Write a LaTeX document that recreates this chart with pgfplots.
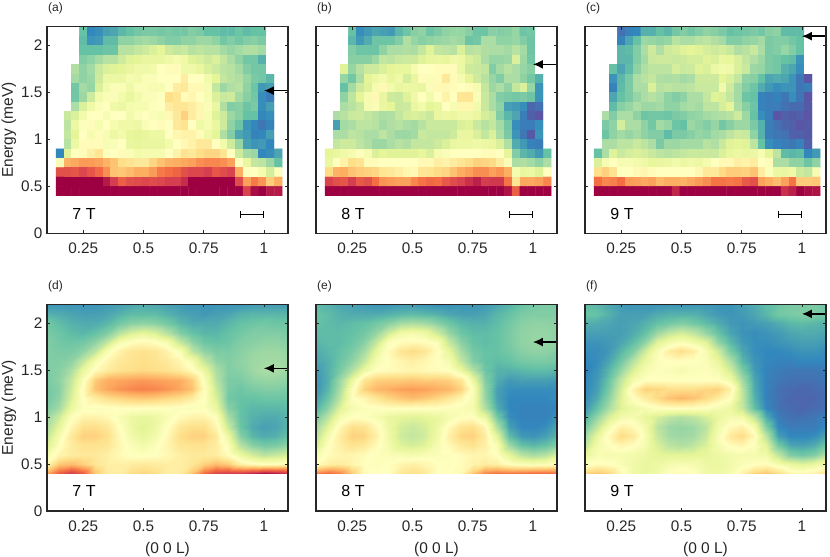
\documentclass[border=0pt]{standalone}
\usepackage{fontspec}
\setmainfont{Liberation Sans}
\usepackage{pgfplots}
\usepackage{pgfplotstable}
\pgfplotsset{compat=1.18}
\usetikzlibrary{arrows.meta}

\definecolor{axcol}{RGB}{38,38,38}

% Spectral map, intensity 0..10. Top panels: -1 = no data (white)
\pgfplotsset{
  colormap={spectop}{rgb255(0cm)=(255,255,255) rgb255(0.99cm)=(255,255,255) rgb255(1cm)=(94,79,162) rgb255(2cm)=(50,136,189) rgb255(3cm)=(102,194,165) rgb255(4cm)=(171,221,164) rgb255(5cm)=(230,245,152) rgb255(6cm)=(255,255,191) rgb255(7cm)=(254,224,139) rgb255(8cm)=(253,174,97) rgb255(9cm)=(244,109,67) rgb255(10cm)=(213,62,79) rgb255(11cm)=(158,1,66)},
  colormap={specbot}{rgb255(0cm)=(94,79,162) rgb255(1cm)=(50,136,189) rgb255(2cm)=(102,194,165) rgb255(3cm)=(171,221,164) rgb255(4cm)=(230,245,152) rgb255(5cm)=(255,255,191) rgb255(6cm)=(254,224,139) rgb255(7cm)=(253,174,97) rgb255(8cm)=(244,109,67) rgb255(9cm)=(213,62,79) rgb255(10cm)=(158,1,66)},
}

% measured panels: 18 rows (2.15 down to 0.45), 29 columns
\pgfplotstableread[row sep=crcr,header=false]{
-1\\-1\\-1\\2.0\\1.0\\1.1\\1.4\\1.5\\1.8\\2.0\\2.2\\2.3\\2.3\\2.2\\2.3\\2.2\\2.2\\2.4\\2.3\\2.0\\2.0\\1.9\\1.9\\2.1\\1.9\\2.0\\2.0\\-1\\-1\\
-1\\-1\\-1\\1.9\\1.2\\1.3\\1.9\\1.9\\2.6\\2.6\\2.8\\2.9\\2.8\\2.6\\2.4\\2.4\\2.6\\2.6\\2.8\\2.8\\2.6\\2.2\\2.4\\2.2\\2.4\\2.5\\2.3\\-1\\-1\\
-1\\-1\\-1\\2.0\\2.0\\2.0\\2.1\\2.1\\3.2\\3.2\\3.4\\3.6\\3.8\\4.0\\3.6\\3.4\\3.5\\3.2\\3.3\\3.2\\3.2\\2.9\\2.7\\2.9\\3.1\\3.1\\2.9\\-1\\-1\\
-1\\-1\\-1\\2.4\\2.6\\2.9\\3.2\\3.2\\3.6\\3.9\\4.0\\4.2\\4.2\\4.2\\4.4\\4.6\\4.4\\3.9\\3.8\\3.6\\3.8\\3.4\\3.0\\2.6\\2.2\\2.2\\1.7\\-1\\-1\\
-1\\-1\\3.1\\2.6\\2.9\\3.5\\3.8\\3.9\\4.0\\4.2\\4.4\\4.4\\4.5\\5.0\\5.1\\5.1\\4.4\\4.4\\4.2\\3.8\\3.6\\3.3\\3.2\\2.9\\2.4\\2.2\\2.2\\-1\\-1\\
-1\\-1\\2.9\\2.6\\2.8\\3.6\\4.3\\4.3\\4.3\\4.6\\4.5\\4.8\\4.8\\5.0\\5.0\\5.0\\5.6\\5.0\\5.0\\4.5\\4.0\\3.4\\3.2\\3.1\\2.7\\2.3\\2.2\\1.8\\-1\\
-1\\-1\\2.2\\2.9\\2.7\\3.8\\4.5\\4.8\\4.8\\4.4\\4.8\\4.8\\4.7\\4.7\\5.0\\5.6\\5.7\\5.2\\5.2\\4.7\\3.4\\2.8\\3.1\\3.2\\2.6\\2.1\\1.3\\1.4\\-1\\
-1\\-1\\2.2\\2.8\\3.6\\4.5\\4.8\\4.8\\4.5\\4.2\\4.5\\4.8\\4.8\\5.0\\6.0\\5.8\\5.1\\5.3\\5.0\\4.7\\3.8\\3.5\\3.6\\2.9\\2.5\\2.2\\1.1\\0.8\\-1\\
-1\\-1\\3.0\\3.8\\4.4\\4.8\\5.0\\4.4\\4.3\\4.6\\4.7\\4.6\\4.9\\5.0\\5.6\\5.8\\5.8\\5.6\\5.3\\4.8\\4.2\\3.1\\2.4\\2.5\\2.1\\2.3\\1.1\\1.4\\-1\\
-1\\3.5\\3.8\\4.5\\5.0\\5.0\\4.7\\5.0\\5.0\\4.5\\4.8\\5.0\\4.8\\4.7\\5.2\\5.7\\6.3\\5.6\\5.3\\4.7\\3.9\\3.6\\2.8\\2.5\\2.0\\2.0\\1.0\\1.1\\-1\\
-1\\3.3\\4.3\\4.9\\5.1\\4.7\\5.0\\4.6\\4.4\\4.4\\4.3\\4.8\\5.0\\5.1\\5.0\\5.7\\5.9\\5.0\\4.4\\4.6\\4.2\\3.6\\2.6\\2.1\\1.2\\1.0\\0.7\\0.9\\-1\\
-1\\3.4\\4.0\\5.0\\4.6\\5.1\\4.7\\4.3\\4.5\\4.1\\4.0\\4.1\\4.3\\4.3\\5.0\\5.3\\5.4\\5.4\\5.1\\4.4\\4.0\\3.1\\2.4\\1.5\\1.3\\0.9\\1.0\\1.4\\-1\\
-1\\3.2\\4.3\\5.1\\5.1\\5.1\\4.7\\4.8\\5.0\\4.2\\4.1\\4.2\\4.2\\4.2\\4.5\\5.0\\5.2\\5.4\\5.7\\5.7\\5.0\\4.5\\3.6\\2.7\\1.4\\1.2\\1.3\\1.0\\-1\\
1.0\\3.9\\5.0\\5.1\\5.5\\5.8\\4.9\\5.0\\5.1\\4.8\\4.5\\4.6\\4.6\\4.6\\5.0\\5.4\\5.9\\5.7\\6.0\\6.2\\6.2\\5.8\\5.0\\3.6\\2.9\\2.8\\1.0\\1.1\\1.5\\
4.8\\6.9\\7.1\\7.3\\7.3\\7.2\\6.9\\6.6\\6.0\\5.9\\5.7\\5.7\\6.2\\6.6\\6.9\\7.0\\7.1\\7.2\\7.5\\7.6\\7.6\\7.5\\7.2\\5.0\\4.2\\3.4\\3.3\\2.8\\2.0\\
8.6\\8.6\\8.5\\8.8\\8.5\\8.1\\7.5\\6.6\\6.5\\6.7\\7.0\\7.0\\7.3\\7.8\\8.0\\8.2\\8.6\\8.8\\8.8\\9.0\\8.5\\8.7\\8.9\\7.0\\5.0\\5.0\\4.6\\3.7\\4.9\\
10\\10\\10\\10\\10\\10\\9.6\\9.0\\8.3\\8.6\\8.7\\8.8\\8.7\\8.8\\9.0\\9.0\\9.3\\10\\10\\10\\10\\10\\10\\8.7\\7.2\\7.8\\7.4\\6.4\\7.0\\
10\\10\\10\\10\\10\\10\\10\\10\\10\\10\\10\\10\\10\\10\\10\\10\\10\\10\\10\\10\\10\\10\\10\\10\\8.9\\9.8\\10\\9.6\\9.6\\
}\taba

\pgfplotstableread[row sep=crcr,header=false]{
-1\\-1\\-1\\2.0\\1.1\\1.3\\1.5\\1.4\\1.3\\1.8\\2.1\\2.5\\2.6\\2.1\\2.3\\2.6\\2.7\\2.7\\2.5\\2.1\\2.1\\2.5\\2.4\\2.5\\2.7\\2.1\\2.2\\-1\\-1\\
-1\\-1\\-1\\1.8\\1.3\\1.6\\2.1\\2.1\\2.1\\2.4\\3.1\\2.7\\2.5\\2.6\\2.7\\2.8\\2.9\\2.8\\2.1\\2.2\\3.0\\3.0\\2.6\\2.6\\2.7\\2.4\\2.1\\-1\\-1\\
-1\\-1\\-1\\2.4\\2.1\\2.1\\2.1\\2.6\\3.0\\3.0\\3.1\\3.0\\3.4\\3.9\\3.4\\3.3\\3.2\\3.8\\3.2\\3.3\\3.1\\3.0\\3.0\\2.9\\3.2\\2.9\\2.1\\-1\\-1\\
-1\\-1\\-1\\2.5\\2.5\\2.5\\2.8\\3.4\\3.3\\3.5\\3.6\\3.6\\3.9\\4.1\\4.2\\4.1\\4.4\\4.3\\3.8\\3.6\\3.0\\2.7\\2.7\\2.8\\3.8\\2.8\\2.2\\-1\\-1\\
-1\\-1\\3.9\\2.7\\3.2\\3.6\\3.6\\3.8\\4.0\\4.1\\4.1\\4.6\\5.0\\5.0\\5.1\\5.1\\5.1\\4.3\\3.6\\3.5\\3.4\\2.4\\2.9\\3.2\\3.0\\2.7\\2.5\\-1\\-1\\
-1\\-1\\2.7\\2.2\\3.0\\4.0\\4.3\\4.5\\4.1\\4.4\\3.7\\4.2\\5.1\\4.8\\5.1\\5.7\\5.1\\4.6\\4.0\\3.6\\3.2\\2.7\\2.4\\3.0\\3.0\\2.6\\2.2\\1.7\\-1\\
-1\\-1\\2.0\\2.9\\3.6\\3.9\\4.6\\5.2\\4.5\\4.2\\4.3\\4.3\\4.2\\4.8\\5.2\\5.2\\5.1\\5.0\\5.1\\4.6\\3.4\\2.8\\3.0\\2.6\\3.4\\3.8\\2.7\\1.2\\-1\\
-1\\-1\\2.6\\3.3\\4.0\\4.6\\5.2\\4.2\\3.6\\3.5\\3.9\\4.4\\5.0\\4.5\\5.0\\5.4\\5.0\\5.8\\5.8\\4.8\\3.5\\3.0\\2.4\\2.3\\2.2\\2.3\\2.1\\1.2\\-1\\
-1\\-1\\3.0\\3.2\\3.5\\4.6\\4.8\\4.2\\4.0\\3.5\\3.6\\4.2\\4.5\\4.0\\4.2\\5.0\\4.7\\5.3\\5.3\\4.5\\3.5\\3.0\\2.6\\1.4\\1.3\\1.1\\0.4\\0.6\\-1\\
-1\\3.0\\3.2\\3.5\\3.6\\3.4\\3.2\\3.0\\3.1\\3.4\\3.7\\3.8\\3.7\\3.5\\4.2\\4.3\\4.2\\4.4\\4.4\\4.2\\3.7\\3.5\\2.4\\1.8\\1.5\\0.8\\0.3\\0.1\\-1\\
-1\\1.4\\2.9\\3.0\\3.3\\3.3\\3.2\\2.9\\3.1\\3.2\\3.0\\2.9\\3.2\\3.5\\3.5\\3.5\\3.5\\3.8\\3.9\\3.5\\3.2\\3.4\\2.9\\2.2\\1.1\\0.8\\0.8\\1.1\\-1\\
-1\\3.0\\3.0\\3.3\\3.2\\3.0\\3.0\\3.3\\3.0\\2.8\\2.8\\2.9\\3.5\\3.4\\3.4\\3.4\\3.6\\4.2\\4.2\\3.8\\3.4\\3.8\\3.0\\2.3\\1.2\\0.7\\0.2\\1.2\\-1\\
-1\\3.4\\3.6\\3.6\\3.3\\3.1\\2.8\\2.8\\3.0\\3.2\\3.1\\3.4\\3.4\\3.4\\3.6\\3.8\\4.2\\4.3\\4.3\\4.4\\4.3\\4.2\\3.8\\3.1\\1.6\\1.3\\0.9\\0.8\\-1\\
4.0\\4.2\\4.4\\4.6\\4.9\\4.6\\3.8\\4.0\\3.9\\3.9\\3.9\\3.9\\4.1\\3.8\\4.6\\4.8\\5.0\\5.0\\5.0\\5.0\\5.1\\5.1\\5.0\\4.0\\2.4\\1.8\\1.6\\1.3\\2.0\\
4.2\\5.0\\5.4\\6.0\\5.9\\5.1\\5.1\\5.0\\5.0\\5.0\\5.0\\5.0\\5.2\\5.2\\5.5\\5.4\\5.6\\5.8\\6.0\\6.3\\6.2\\6.1\\5.6\\4.8\\3.0\\3.1\\2.9\\2.6\\3.0\\
6.1\\6.9\\7.0\\6.6\\6.4\\6.3\\6.2\\5.8\\5.7\\5.5\\5.3\\5.2\\5.8\\5.9\\6.1\\6.2\\6.6\\7.0\\7.2\\7.5\\7.5\\7.2\\7.4\\7.0\\4.6\\4.2\\4.3\\3.9\\5.0\\
8.9\\8.6\\8.5\\9.0\\8.4\\8.6\\8.0\\7.4\\7.3\\7.2\\7.2\\7.6\\7.9\\8.1\\8.0\\8.4\\8.7\\8.9\\9.2\\9.5\\9.0\\9.1\\9.1\\7.9\\5.8\\7.1\\7.1\\7.2\\7.6\\
10\\10\\10\\10\\10\\10\\10\\10\\10\\10\\10\\10\\10\\10\\10\\10\\10\\10\\10\\10\\10\\10\\10\\9.7\\8.3\\10\\10\\10\\10\\
}\tabb

\pgfplotstableread[row sep=crcr,header=false]{
-1\\-1\\-1\\0.6\\0.9\\1.0\\1.7\\1.7\\2.0\\1.8\\2.2\\2.4\\2.2\\2.4\\2.6\\2.5\\2.3\\2.0\\2.1\\2.2\\2.3\\2.2\\2.5\\2.6\\1.9\\1.9\\1.9\\-1\\-1\\
-1\\-1\\-1\\0.9\\1.5\\2.0\\2.8\\2.7\\2.6\\2.7\\3.2\\3.0\\3.0\\3.2\\3.3\\3.1\\2.9\\2.4\\2.4\\2.6\\2.7\\2.9\\2.3\\2.4\\2.4\\2.2\\2.0\\-1\\-1\\
-1\\-1\\-1\\1.8\\1.9\\2.4\\3.0\\3.6\\3.1\\3.6\\3.7\\3.9\\4.0\\3.9\\3.7\\3.6\\3.7\\3.5\\3.1\\3.2\\3.5\\3.0\\2.3\\2.4\\2.7\\2.4\\2.0\\-1\\-1\\
-1\\-1\\-1\\1.8\\1.8\\2.4\\2.9\\3.5\\3.6\\3.6\\3.5\\3.6\\3.7\\3.7\\3.9\\3.8\\4.2\\4.1\\3.8\\3.4\\3.1\\2.8\\2.3\\2.2\\2.0\\1.9\\1.2\\-1\\-1\\
-1\\-1\\2.0\\1.5\\1.9\\2.6\\3.1\\3.3\\3.3\\3.3\\3.7\\3.5\\3.6\\3.9\\3.8\\4.3\\4.5\\4.4\\3.8\\3.5\\2.8\\2.7\\2.3\\2.2\\1.7\\1.5\\1.1\\-1\\-1\\
-1\\-1\\1.2\\1.8\\2.3\\3.0\\3.2\\3.4\\3.1\\3.0\\3.1\\2.9\\3.0\\3.6\\3.6\\3.6\\4.0\\3.8\\3.4\\2.6\\2.5\\2.0\\1.5\\1.6\\1.5\\1.2\\0.7\\0.1\\-1\\
-1\\-1\\0.9\\1.9\\2.3\\3.0\\3.0\\3.8\\3.2\\3.3\\3.2\\3.2\\3.3\\3.5\\3.5\\3.5\\4.5\\3.6\\2.9\\2.4\\2.1\\1.6\\1.3\\1.1\\1.2\\1.2\\0.7\\0.8\\-1\\
-1\\-1\\1.5\\2.0\\2.3\\2.7\\3.0\\3.2\\3.0\\2.6\\2.4\\2.6\\3.0\\3.0\\3.4\\3.9\\3.8\\3.4\\2.9\\2.1\\2.0\\0.9\\0.8\\0.9\\0.7\\1.1\\0.7\\0.1\\-1\\
-1\\-1\\1.9\\2.5\\2.7\\3.0\\2.8\\2.8\\2.9\\2.6\\2.6\\2.9\\3.0\\2.9\\3.3\\3.3\\3.7\\4.0\\3.0\\2.5\\2.1\\0.9\\0.8\\0.8\\0.6\\0.5\\0.5\\0.2\\-1\\
-1\\3.0\\2.4\\3.0\\3.0\\2.6\\2.1\\2.2\\2.2\\2.1\\2.3\\2.4\\2.6\\2.7\\2.9\\3.0\\3.1\\3.2\\3.6\\2.8\\2.0\\1.1\\0.8\\0.1\\0.3\\0.2\\0.3\\0.1\\-1\\
-1\\2.3\\2.6\\3.7\\3.0\\3.0\\2.6\\2.2\\2.9\\2.7\\2.1\\2.0\\2.8\\2.6\\2.4\\2.7\\2.2\\2.5\\2.8\\2.8\\2.3\\1.7\\0.8\\0.6\\0.4\\0.3\\0.1\\0.2\\-1\\
-1\\2.1\\2.6\\2.9\\2.7\\2.9\\2.6\\2.4\\2.4\\1.9\\2.3\\2.3\\2.5\\2.7\\2.6\\2.9\\3.0\\3.3\\3.6\\3.5\\2.6\\1.7\\0.8\\0.7\\0.6\\0.3\\0.3\\0.2\\-1\\
-1\\3.0\\3.0\\3.3\\3.3\\3.5\\3.3\\3.0\\2.3\\2.8\\2.8\\2.9\\2.9\\2.9\\3.2\\3.1\\3.5\\3.9\\4.0\\3.9\\3.3\\2.0\\1.1\\0.9\\0.8\\0.7\\0.9\\0.3\\-1\\
2.0\\3.0\\3.9\\3.5\\3.7\\3.8\\3.7\\3.5\\3.3\\3.2\\3.3\\3.4\\3.5\\3.5\\3.5\\3.5\\3.8\\4.1\\4.3\\4.2\\4.3\\4.7\\4.0\\3.3\\1.9\\1.8\\1.9\\1.0\\1.3\\
3.8\\4.7\\5.0\\4.7\\4.7\\4.5\\4.4\\4.1\\4.2\\4.3\\4.5\\4.3\\4.4\\4.3\\4.6\\5.0\\5.2\\5.2\\5.5\\5.4\\5.6\\5.0\\5.1\\3.0\\3.0\\2.6\\2.6\\2.1\\2.6\\
6.0\\6.3\\5.9\\5.0\\5.0\\5.2\\5.3\\5.1\\5.0\\5.0\\5.0\\5.0\\5.0\\5.3\\5.7\\5.7\\6.1\\6.4\\6.4\\6.3\\6.6\\5.6\\4.9\\4.3\\4.2\\4.4\\3.6\\3.4\\4.7\\
8.0\\7.6\\7.7\\8.0\\7.3\\7.2\\7.1\\7.2\\6.8\\7.0\\7.0\\6.9\\7.1\\7.3\\7.5\\7.9\\7.9\\7.8\\7.9\\8.4\\8.6\\7.2\\7.0\\6.7\\7.2\\7.9\\6.4\\6.4\\6.5\\
10\\10\\10\\10\\10\\10\\10\\10\\10\\10\\9.4\\10\\10\\10\\10\\10\\10\\10\\10\\10\\10\\10\\10\\10\\9.2\\9.5\\10\\9.8\\9.7\\
}\tabc

% calculated panels: 19 rows (2.2 down to 0.4), 21 columns (0.1 to 1.1)
\pgfplotstableread[row sep=crcr,header=false]{
1.2\\1.2\\1.2\\1.2\\1.2\\1.3\\1.4\\1.5\\1.6\\1.5\\1.4\\1.3\\1.2\\1.2\\1.2\\1.2\\1.2\\1.3\\1.3\\1.3\\1.3\\
1.7\\1.6\\1.5\\1.4\\1.4\\1.5\\1.7\\1.9\\1.9\\1.9\\1.7\\1.5\\1.4\\1.3\\1.4\\1.5\\1.7\\1.8\\1.8\\1.8\\1.8\\
2.2\\1.9\\1.7\\1.6\\1.6\\1.8\\2.2\\2.5\\2.6\\2.5\\2.2\\1.8\\1.6\\1.6\\1.6\\1.8\\2.0\\2.1\\2.2\\2.1\\2.1\\
2.3\\2.1\\1.9\\1.8\\2.0\\2.4\\3.2\\3.8\\4.1\\3.8\\3.2\\2.4\\2.0\\1.8\\1.8\\2.0\\2.2\\2.4\\2.4\\2.4\\2.3\\
2.4\\2.2\\2.1\\2.2\\2.6\\3.4\\4.6\\5.0\\5.2\\5.0\\4.6\\3.4\\2.6\\2.1\\2.0\\2.1\\2.4\\2.5\\2.6\\2.6\\2.5\\
2.4\\2.3\\2.3\\2.6\\3.3\\4.7\\5.4\\5.8\\5.9\\5.8\\5.4\\4.7\\3.3\\2.6\\2.3\\2.3\\2.5\\2.7\\2.8\\2.8\\2.7\\
2.4\\2.4\\2.6\\3.4\\4.6\\5.3\\5.7\\5.9\\6.0\\5.9\\5.7\\5.3\\4.6\\3.4\\2.6\\2.4\\2.6\\2.8\\2.9\\2.9\\2.8\\
2.4\\2.5\\3.0\\4.2\\5.1\\5.6\\5.9\\6.0\\6.1\\6.0\\5.9\\5.6\\5.1\\4.2\\3.0\\2.4\\2.5\\2.8\\3.0\\3.0\\2.8\\
2.3\\2.6\\3.4\\4.8\\6.4\\7.0\\7.1\\7.2\\7.3\\7.2\\7.1\\7.0\\6.4\\4.8\\3.2\\2.3\\2.3\\2.6\\2.7\\2.7\\2.6\\
2.2\\2.5\\3.6\\5.1\\6.6\\7.1\\7.4\\7.6\\7.7\\7.6\\7.4\\7.1\\6.6\\5.1\\3.5\\2.3\\2.1\\2.3\\2.4\\2.4\\2.3\\
2.2\\2.6\\3.8\\5.0\\5.6\\6.0\\6.2\\6.4\\6.5\\6.4\\6.2\\6.0\\5.6\\5.0\\3.8\\2.2\\2.0\\2.0\\2.1\\2.1\\2.1\\
2.4\\2.9\\4.2\\4.9\\4.8\\4.9\\5.0\\5.0\\5.0\\5.0\\5.0\\4.9\\4.8\\4.9\\4.2\\2.5\\2.0\\1.8\\1.8\\1.8\\1.9\\
2.8\\3.6\\4.9\\5.4\\5.4\\5.2\\4.7\\4.3\\4.1\\4.3\\4.7\\5.2\\5.4\\5.4\\4.9\\3.0\\2.0\\1.7\\1.6\\1.6\\1.8\\
3.1\\4.1\\5.3\\6.0\\6.0\\5.8\\5.0\\4.3\\3.9\\4.3\\5.0\\5.8\\6.0\\6.0\\5.3\\3.5\\2.1\\1.6\\1.4\\1.5\\1.8\\
3.4\\4.6\\5.7\\6.3\\6.3\\6.0\\5.2\\4.5\\4.1\\4.5\\5.2\\6.0\\6.3\\6.3\\5.7\\4.3\\2.5\\1.8\\1.6\\1.7\\2.0\\
3.8\\4.9\\5.6\\5.9\\5.9\\5.8\\5.3\\4.8\\4.5\\4.8\\5.3\\5.8\\5.9\\5.9\\5.6\\4.8\\3.2\\2.5\\2.2\\2.3\\2.6\\
4.6\\5.3\\5.6\\5.7\\5.7\\5.5\\5.2\\5.0\\4.9\\5.0\\5.2\\5.5\\5.7\\5.7\\5.6\\5.1\\4.3\\3.7\\3.3\\3.5\\3.8\\
5.3\\6.5\\6.7\\6.3\\5.8\\5.5\\5.5\\5.6\\5.7\\5.6\\5.5\\5.5\\5.8\\6.3\\6.7\\6.4\\5.5\\5.2\\5.0\\5.0\\5.2\\
7.0\\8.3\\9.0\\8.3\\6.5\\5.6\\5.5\\6.0\\6.2\\6.0\\5.5\\5.6\\6.5\\8.0\\8.8\\9.0\\9.0\\9.3\\9.7\\9.5\\9.0\\
}\tabd

\pgfplotstableread[row sep=crcr,header=false]{
1.9\\1.7\\1.5\\1.4\\1.3\\1.2\\1.2\\1.3\\1.3\\1.2\\1.1\\1.1\\1.2\\1.2\\1.3\\1.5\\1.7\\2.0\\2.2\\2.3\\2.3\\
2.0\\1.9\\1.7\\1.6\\1.6\\1.6\\1.7\\1.8\\1.9\\1.8\\1.7\\1.5\\1.4\\1.4\\1.5\\1.8\\2.0\\2.3\\2.4\\2.4\\2.4\\
2.0\\1.9\\1.8\\1.9\\2.0\\2.2\\2.5\\2.9\\3.0\\2.9\\2.5\\2.1\\1.8\\1.7\\1.7\\1.9\\2.2\\2.5\\2.6\\2.6\\2.5\\
1.9\\1.9\\1.9\\2.0\\2.2\\2.7\\3.6\\4.4\\4.6\\4.4\\3.6\\2.7\\2.1\\1.9\\1.9\\2.0\\2.3\\2.6\\2.7\\2.7\\2.6\\
1.8\\1.9\\1.9\\2.1\\2.5\\3.4\\4.8\\5.1\\5.2\\5.1\\4.8\\3.4\\2.5\\2.0\\1.9\\2.0\\2.3\\2.6\\2.7\\2.7\\2.6\\
1.6\\1.8\\2.0\\2.3\\2.9\\4.1\\5.1\\5.8\\6.1\\5.8\\5.1\\4.1\\2.9\\2.2\\2.0\\2.0\\2.2\\2.5\\2.6\\2.6\\2.4\\
1.5\\1.7\\2.1\\2.6\\3.4\\4.6\\5.0\\5.3\\5.5\\5.3\\5.0\\4.6\\3.4\\2.4\\2.0\\1.9\\2.0\\2.2\\2.3\\2.3\\2.2\\
1.3\\1.7\\2.3\\3.1\\4.2\\5.0\\5.1\\5.2\\5.3\\5.2\\5.1\\5.0\\4.2\\3.1\\2.1\\1.7\\1.7\\1.8\\1.9\\1.9\\1.8\\
1.2\\1.7\\2.8\\4.2\\5.8\\6.3\\6.4\\6.4\\6.5\\6.4\\6.4\\6.3\\5.8\\4.2\\2.4\\1.6\\1.3\\1.4\\1.4\\1.4\\1.3\\
1.2\\1.8\\3.0\\4.8\\6.3\\6.8\\7.0\\7.2\\7.3\\7.2\\7.0\\6.8\\6.3\\4.8\\2.6\\1.4\\1.1\\1.1\\1.1\\1.1\\1.1\\
1.4\\2.1\\3.3\\4.9\\5.3\\5.8\\6.2\\6.5\\6.7\\6.5\\6.2\\5.8\\5.3\\4.7\\2.7\\1.4\\1.0\\1.0\\1.0\\1.0\\1.1\\
1.7\\2.6\\3.9\\4.6\\4.8\\4.9\\5.0\\5.0\\5.0\\5.0\\5.0\\4.9\\4.8\\4.6\\3.1\\1.6\\1.0\\0.9\\0.9\\0.9\\1.0\\
2.3\\3.3\\4.6\\5.0\\4.9\\4.6\\4.2\\4.0\\3.9\\4.0\\4.2\\4.6\\4.9\\5.0\\4.2\\2.2\\1.1\\0.9\\0.9\\0.9\\1.2\\
2.9\\4.0\\5.3\\6.0\\5.9\\5.2\\4.3\\3.7\\3.5\\3.7\\4.3\\5.2\\5.9\\6.0\\5.3\\3.1\\1.4\\1.0\\1.0\\1.1\\1.5\\
3.2\\4.6\\5.6\\6.3\\6.2\\5.5\\4.4\\3.6\\3.4\\3.6\\4.4\\5.5\\6.2\\6.3\\5.6\\4.0\\1.9\\1.3\\1.2\\1.4\\1.8\\
3.7\\4.9\\5.5\\5.9\\5.7\\5.2\\4.6\\3.9\\3.7\\3.9\\4.6\\5.2\\5.7\\5.9\\5.5\\4.7\\2.8\\2.0\\1.8\\2.0\\2.4\\
4.6\\5.1\\5.3\\5.3\\5.1\\4.9\\4.8\\4.7\\4.6\\4.7\\4.8\\4.9\\5.1\\5.3\\5.3\\5.0\\4.1\\3.3\\3.0\\3.2\\3.8\\
5.0\\5.5\\5.6\\5.3\\5.0\\4.9\\5.0\\5.3\\5.5\\5.3\\5.0\\4.9\\5.1\\5.4\\5.6\\5.5\\5.0\\4.8\\4.7\\4.8\\5.0\\
7.6\\8.0\\7.6\\6.4\\5.1\\5.0\\5.0\\5.7\\6.0\\5.7\\5.0\\5.0\\5.2\\6.5\\7.6\\7.9\\7.8\\7.9\\8.0\\8.0\\7.9\\
}\tabe

\pgfplotstableread[row sep=crcr,header=false]{
1.9\\1.8\\1.5\\1.3\\1.2\\1.2\\1.2\\1.2\\1.2\\1.2\\1.2\\1.2\\1.2\\1.4\\1.6\\1.9\\2.1\\2.3\\2.3\\2.3\\2.1\\
2.1\\2.0\\1.7\\1.4\\1.4\\1.4\\1.6\\1.7\\1.7\\1.7\\1.5\\1.3\\1.2\\1.3\\1.5\\1.8\\2.2\\2.3\\2.4\\2.4\\2.2\\
1.7\\1.6\\1.5\\1.4\\1.5\\1.7\\2.0\\2.2\\2.4\\2.2\\1.9\\1.6\\1.3\\1.2\\1.3\\1.4\\1.6\\1.8\\1.9\\1.8\\1.7\\
1.4\\1.4\\1.4\\1.4\\1.6\\2.0\\2.8\\3.4\\3.7\\3.4\\2.7\\2.0\\1.5\\1.2\\1.1\\1.2\\1.3\\1.5\\1.6\\1.6\\1.5\\
1.2\\1.2\\1.3\\1.5\\1.9\\2.6\\3.9\\4.5\\4.8\\4.5\\3.9\\2.6\\1.8\\1.3\\1.1\\1.1\\1.2\\1.3\\1.4\\1.4\\1.3\\
1.1\\1.1\\1.3\\1.8\\2.4\\3.6\\4.7\\5.6\\6.0\\5.6\\4.7\\3.6\\2.3\\1.5\\1.1\\1.0\\1.0\\1.1\\1.2\\1.2\\1.1\\
1.0\\1.1\\1.5\\2.2\\3.2\\4.2\\4.8\\5.0\\5.0\\5.0\\4.8\\4.2\\3.1\\1.8\\1.2\\1.0\\0.9\\0.9\\1.0\\1.0\\1.0\\
0.9\\1.2\\1.8\\2.7\\3.8\\4.6\\4.9\\4.8\\4.6\\4.8\\4.9\\4.6\\3.7\\2.3\\1.3\\0.9\\0.8\\0.7\\0.7\\0.7\\0.8\\
1.0\\1.3\\2.1\\3.4\\4.5\\5.0\\5.0\\5.0\\5.0\\5.0\\5.0\\5.0\\4.5\\2.9\\1.5\\0.9\\0.7\\0.6\\0.6\\0.6\\0.7\\
1.0\\1.4\\2.3\\3.7\\5.4\\6.3\\6.2\\6.0\\6.0\\6.0\\6.2\\6.3\\5.5\\3.3\\1.6\\0.9\\0.6\\0.5\\0.4\\0.5\\0.6\\
1.1\\1.6\\2.6\\3.9\\5.0\\5.6\\6.1\\6.6\\6.8\\6.6\\6.1\\5.6\\5.0\\3.4\\1.7\\0.9\\0.6\\0.4\\0.4\\0.4\\0.6\\
1.3\\2.0\\3.0\\3.9\\4.3\\4.6\\4.9\\5.0\\5.0\\5.0\\4.9\\4.6\\4.3\\3.5\\2.0\\1.0\\0.6\\0.5\\0.4\\0.5\\0.6\\
1.7\\2.7\\3.8\\4.5\\4.6\\4.1\\3.7\\3.3\\3.1\\3.3\\3.7\\4.2\\4.6\\4.5\\3.4\\1.6\\0.8\\0.6\\0.6\\0.7\\0.9\\
2.3\\3.4\\4.7\\5.5\\5.2\\4.5\\3.3\\2.8\\2.7\\2.8\\3.3\\4.5\\5.2\\5.5\\4.6\\2.4\\1.0\\0.8\\0.8\\0.8\\1.1\\
2.9\\4.1\\5.2\\6.1\\5.7\\4.7\\3.5\\2.9\\2.8\\2.9\\3.5\\4.7\\5.7\\6.1\\5.2\\3.3\\1.4\\1.0\\1.0\\1.1\\1.5\\
3.3\\4.5\\4.9\\5.3\\5.1\\4.6\\3.8\\3.3\\3.1\\3.3\\3.8\\4.6\\5.1\\5.3\\4.9\\4.0\\2.2\\1.5\\1.4\\1.6\\2.2\\
4.1\\4.7\\4.6\\4.6\\4.5\\4.3\\4.1\\4.0\\4.0\\4.0\\4.1\\4.3\\4.5\\4.6\\4.6\\4.5\\3.4\\2.4\\2.2\\2.4\\3.2\\
4.9\\5.1\\5.0\\4.7\\4.4\\4.2\\4.3\\4.6\\4.7\\4.6\\4.3\\4.2\\4.5\\4.8\\5.0\\5.1\\4.6\\4.2\\3.9\\4.2\\4.6\\
6.2\\6.5\\6.1\\5.2\\4.4\\4.2\\4.4\\5.0\\5.2\\5.0\\4.4\\4.3\\4.6\\5.4\\6.2\\6.5\\6.0\\5.3\\5.2\\5.4\\5.8\\
}\tabf

\pgfplotsset{
  panel/.style={
    scale only axis, width=241bp, height=206.5bp,
    anchor=south west, axis on top,
    xmin=0.1, xmax=1.1, ymin=0, ymax=2.2,
    xtick={0.25,0.5,0.75,1}, xticklabels={0.25,0.5,0.75,1},
    ytick={0,0.5,1,1.5,2},
    tick align=inside, major tick length=3bp,
    tick style={axcol, line width=0.8bp},
    axis line style={axcol, line width=1.3bp},
    every tick label/.append style={font=\fontsize{15.3bp}{17bp}\selectfont, text=axcol},
    label style={font=\fontsize{15.5bp}{18bp}\selectfont, text=axcol},
    xticklabel style={yshift=-6bp},
    yticklabel style={xshift=-1bp},
    ylabel style={at={(axis description cs:-0.158,0.5)}, anchor=center, rotate=0},
    xlabel style={at={(axis description cs:0.5,-0.184)}, anchor=center},
  },
  toprow/.style={panel, colormap name=spectop, point meta min=-1, point meta max=10},
  botrow/.style={panel, colormap name=specbot, point meta min=0, point meta max=10},
  leftcol/.style={yticklabels={0,0.5,1,1.5,2}, ylabel={Energy (meV)}},
  innercol/.style={yticklabels={}},
  bottomx/.style={xlabel={(0 0 L)}},
}

% grid position comes from the row number; +0.5 keeps floor() off the rounding edge
\newcommand{\cells}[1]{\addplot[matrix plot*, mesh/cols=29, point meta=explicit]
  table[x index=0, y index=0, meta index=0, x expr={0.1537+0.03234*(\coordindex-29*floor((\coordindex+0.5)/29))}, y expr={2.15-0.1*floor((\coordindex+0.5)/29)}] {#1};}
\newcommand{\smooth}[1]{\addplot[surf, shader=interp, mesh/cols=21, point meta=explicit]
  table[x index=0, y index=0, meta index=0, x expr={0.1+0.05*(\coordindex-21*floor((\coordindex+0.5)/21))}, y expr={2.2-0.1*floor((\coordindex+0.5)/21)}] {#1};}
\newcommand{\notes}[3]{% field text, arrow height, scale bar if any
  \node[font=\fontsize{16bp}{18bp}\selectfont, text=black] at (axis cs:0.2535,0.21) {#1};
  \draw[line width=1.5bp, black, -{Latex[length=10bp,width=9bp]}] (axis cs:1.1,#2) -- (axis cs:1.0,#2);
  #3
}
\newcommand{\scalebar}{\draw[line width=1.4bp, black, {Bar[width=7bp]}-{Bar[width=7bp]}] (axis cs:0.9,0.2) -- (axis cs:1.0,0.2);}
\newcommand{\panellabel}[3]{\node[anchor=west, inner sep=0pt, font=\fontsize{12bp}{14bp}\selectfont, text=axcol] at (#1bp,{557bp-#2bp}) {#3};}

\begin{document}
\begin{tikzpicture}
\useasboundingbox (0,0) rectangle (830bp,557bp);

\begin{axis}[toprow, leftcol, at={(47bp,323.7bp)}]
  \cells{\taba}
  \notes{7 T}{1.52}{\scalebar}
\end{axis}
\begin{axis}[toprow, innercol, at={(316bp,323.7bp)}]
  \cells{\tabb}
  \notes{8 T}{1.8}{\scalebar}
\end{axis}
\begin{axis}[toprow, innercol, at={(585bp,323.7bp)}]
  \cells{\tabc}
  \notes{9 T}{2.1}{\scalebar}
\end{axis}

\begin{axis}[botrow, leftcol, bottomx, at={(47bp,46bp)}]
  \smooth{\tabd}
  \notes{7 T}{1.52}{}
\end{axis}
\begin{axis}[botrow, innercol, bottomx, at={(316bp,46bp)}]
  \smooth{\tabe}
  \notes{8 T}{1.8}{}
\end{axis}
\begin{axis}[botrow, innercol, bottomx, at={(585bp,46bp)}]
  \smooth{\tabf}
  \notes{9 T}{2.1}{}
\end{axis}

\panellabel{48}{8}{(a)}
\panellabel{317}{8}{(b)}
\panellabel{586}{8}{(c)}
\panellabel{48}{286}{(d)}
\panellabel{317}{286}{(e)}
\panellabel{586}{286}{(f)}
\end{tikzpicture}
\end{document}
